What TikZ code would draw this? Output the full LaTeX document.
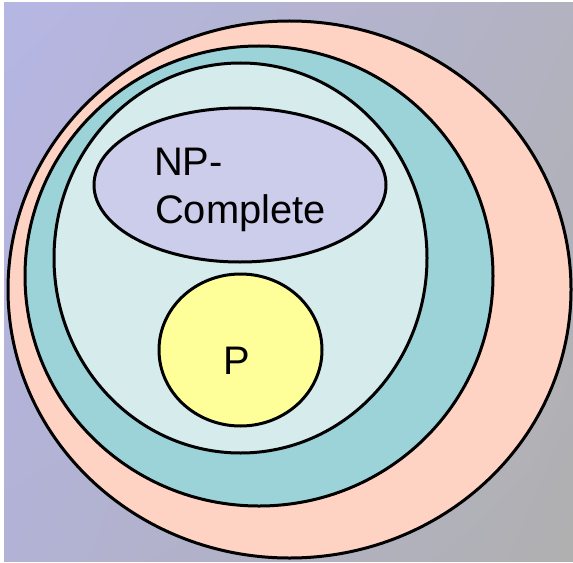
\documentclass[tikz,border=0pt]{standalone}
\usepackage{fontspec}
\setmainfont{Liberation Sans}
\usetikzlibrary{shadings}
\definecolor{bgviolet}{RGB}{182,182,228}
\definecolor{bgmauve}{RGB}{178,178,192}
\definecolor{bglilac}{RGB}{178,178,214}
\definecolor{bggray}{RGB}{176,176,176}
\definecolor{salmon}{RGB}{255,211,196}
\definecolor{aqua}{RGB}{155,211,216}
\definecolor{mist}{RGB}{214,235,235}
\definecolor{lavender}{RGB}{204,204,235}
\definecolor{lemon}{RGB}{255,255,153}

\begin{document}
\begin{tikzpicture}
[x=1bp,y=-1bp,every node/.style={font=\fontsize{40}{48}\selectfont,inner sep=0pt},
 ring/.style={draw=black,line width=3bp}]
\useasboundingbox (0,0) rectangle (573,563);
\fill[white] (0,0) rectangle (573,563);
\shade[upper left=bgviolet,upper right=bgmauve,lower left=bglilac,lower right=bggray] (4,3) rectangle (573,561);
% nested classes
\draw[ring,fill=salmon] (289.5,289.5) ellipse [x radius=281.5,y radius=268.5];
\draw[ring,fill=aqua] (259,276) ellipse [x radius=234,y radius=230];
\draw[ring,fill=mist] (240.5,258) ellipse [x radius=186.5,y radius=195];
\draw[ring,fill=lavender] (240,185) ellipse [x radius=146,y radius=77];
\draw[ring,fill=lemon] (240.5,350) ellipse [x radius=81.5,y radius=76];
% labels
\node[anchor=base west] (np) at (154,175) {NP-};
\node[anchor=base west] (complete) at (155,223) {Complete};
\node[anchor=base] (p) at (237,374) {P};
\end{tikzpicture}
\end{document}
